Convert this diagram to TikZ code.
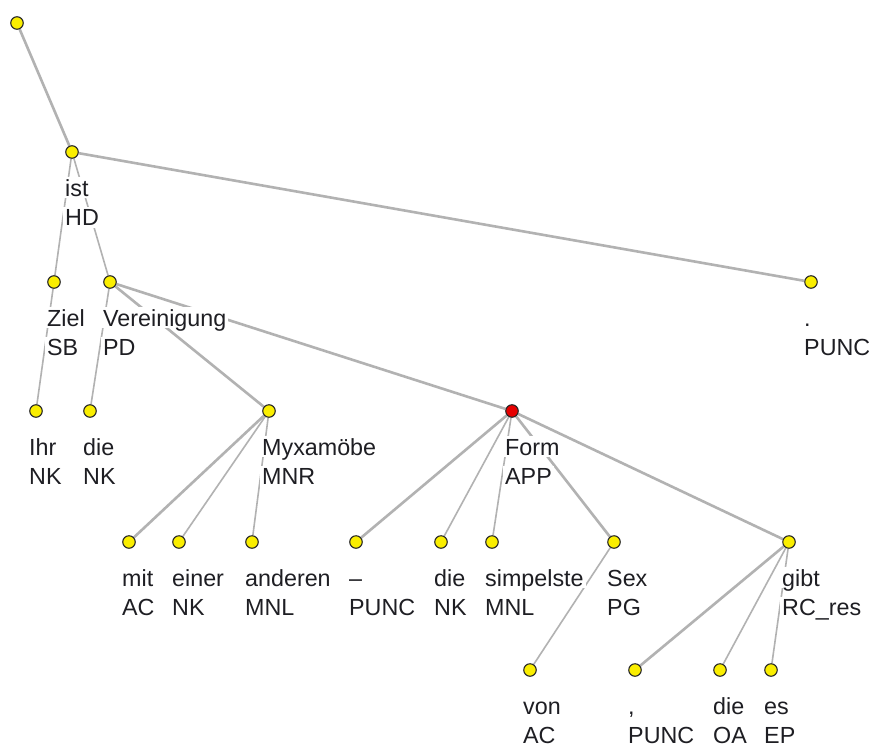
\documentclass[tikz,border=0pt]{standalone}
\usepackage{fontspec}
\setmainfont{Liberation Sans}
\usetikzlibrary{backgrounds}
\definecolor{edgegray}{RGB}{178,178,178}
\definecolor{nodeyellow}{RGB}{250,238,0}
\definecolor{nodered}{RGB}{230,0,0}
\definecolor{txt}{RGB}{30,30,35}
\tikzset{
  tn/.style={circle, draw=black!85, line width=1.1pt, fill=nodeyellow, minimum size=12.5pt, inner sep=0pt},
  rn/.style={tn, fill=nodered},
  lb/.style={anchor=base west, fill=white, inner xsep=2pt, inner ysep=0pt, text height=19pt, text depth=2pt, font=\fontsize{23.3}{28}\selectfont, text=txt},
  ethick/.style={draw=edgegray, line width=2.6pt},
  ethin/.style={draw=edgegray, line width=1.6pt},
}
\newcommand\treenode[6]{%
  \node[#6] (#1) at (#2,#3) {};
  \node[lb] (#1w) at (#2-9,#3+44) {#4};
  \node[lb] (#1t) at (#2-9,#3+73.5) {#5};
}
\begin{document}
\begin{tikzpicture}[x=1pt,y=-1pt]
\useasboundingbox (0,0) rectangle (869,747);
\node[tn] (root) at (17,23) {};
\treenode{ist}{72}{152}{ist}{HD}{tn}
\treenode{punc}{811}{282}{.}{PUNC}{tn}
\treenode{ziel}{54}{282}{Ziel}{SB}{tn}
\treenode{ver}{110}{282}{Vereinigung}{PD}{tn}
\treenode{ihr}{36}{411}{Ihr}{NK}{tn}
\treenode{die}{90}{411}{die}{NK}{tn}
\treenode{myx}{269}{411}{Myxamöbe}{MNR}{tn}
\treenode{form}{512}{411}{Form}{APP}{rn}
\treenode{mit}{129}{542}{mit}{AC}{tn}
\treenode{einer}{179}{542}{einer}{NK}{tn}
\treenode{anderen}{252}{542}{anderen}{MNL}{tn}
\treenode{dash}{356}{542}{–}{PUNC}{tn}
\treenode{dienk}{441}{542}{die}{NK}{tn}
\treenode{simp}{492}{542}{simpelste}{MNL}{tn}
\treenode{sex}{614}{542}{Sex}{PG}{tn}
\treenode{gibt}{789}{542}{gibt}{RC\_res}{tn}
\treenode{von}{530}{670}{von}{AC}{tn}
\treenode{comma}{635}{670}{,}{PUNC}{tn}
\treenode{dieoa}{720}{670}{die}{OA}{tn}
\treenode{es}{771}{670}{es}{EP}{tn}
\begin{scope}[on background layer]
  \fill[white] (0,0) rectangle (869,747);
  \draw[ethick] (root) -- (ist);
  \draw[ethick] (ist) -- (punc);
  \draw[ethin] (ist) -- (ziel);
  \draw[ethin] (ist) -- (ver);
  \draw[ethin] (ziel) -- (ihr);
  \draw[ethin] (ver) -- (die);
  \draw[ethick] (ver) -- (myx);
  \draw[ethick] (ver) -- (form);
  \draw[ethick] (myx) -- (mit);
  \draw[ethin] (myx) -- (einer);
  \draw[ethin] (myx) -- (anderen);
  \draw[ethick] (form) -- (dash);
  \draw[ethin] (form) -- (dienk);
  \draw[ethin] (form) -- (simp);
  \draw[ethick] (form) -- (sex);
  \draw[ethick] (form) -- (gibt);
  \draw[ethin] (sex) -- (von);
  \draw[ethick] (gibt) -- (comma);
  \draw[ethin] (gibt) -- (dieoa);
  \draw[ethin] (gibt) -- (es);
\end{scope}
\end{tikzpicture}
\end{document}
